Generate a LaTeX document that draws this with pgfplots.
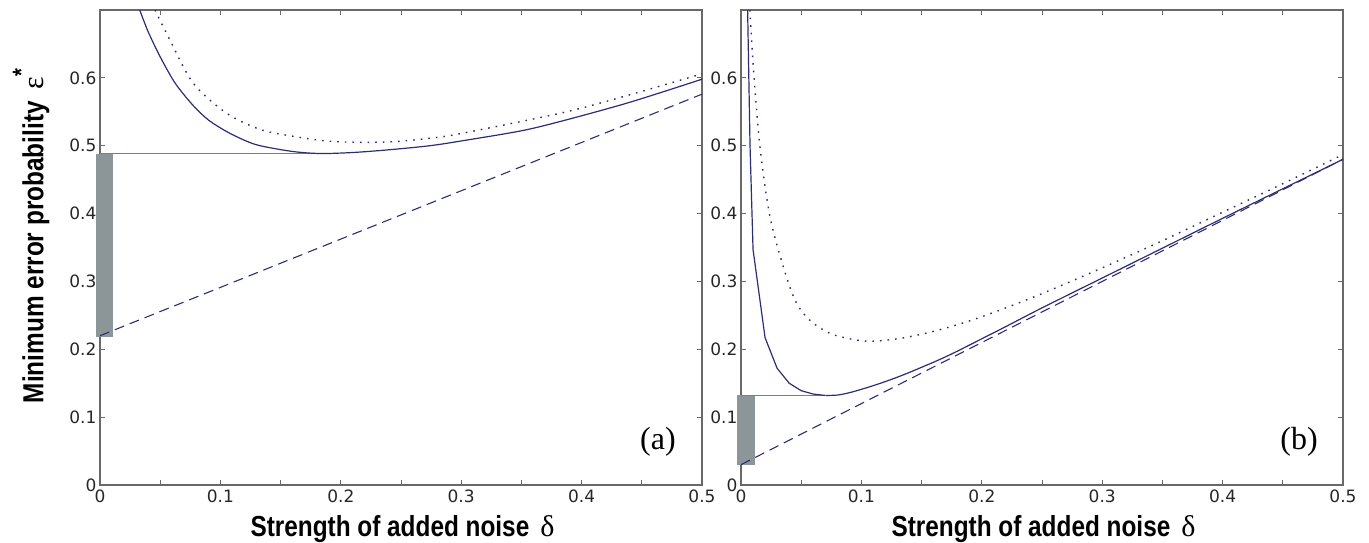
\documentclass[border=0pt]{standalone}
\usepackage{fontspec}
\usepackage{pgfplots}
\pgfplotsset{compat=1.18}
\setmainfont{DejaVu Sans}
\newfontfamily\labfont[FakeStretch=0.84]{Liberation Sans}
\newfontfamily\serifont{Liberation Serif}

\definecolor{navy}{RGB}{45,45,115}
\definecolor{axisgray}{RGB}{105,105,105}
\definecolor{boxgray}{RGB}{140,150,153}
\definecolor{linegray}{RGB}{125,125,125}

\pgfplotsset{
  panel/.style={
    scale only axis, width=602pt, height=475pt,
    xmin=0, xmax=0.5, ymin=0, ymax=0.7,
    xtick={0,0.1,0.2,0.3,0.4,0.5},
    minor xtick={0.05,0.15,0.25,0.35,0.45},
    ytick={0,0.1,0.2,0.3,0.4,0.5,0.6},
    major tick length=5pt, minor tick length=5pt,
    axis line style={axisgray, line width=1.2pt},
    every tick/.style={axisgray, line width=1pt},
    every minor tick/.style={axisgray, line width=1pt},
    tick label style={font=\fontsize{17}{17}\selectfont, text=black!85},
    xticklabel style={yshift=-1pt},
    /pgf/number format/assume math mode=true,
    clip=false,
  },
  curve/.style={navy, line width=1.2pt},
  dotc/.style={navy, line width=1.4pt, dash pattern=on 1.6pt off 6pt},
  dashc/.style={navy, line width=1.1pt, dash pattern=on 10pt off 6pt},
}

\begin{document}
\begin{tikzpicture}
\useasboundingbox (-100pt,-58pt) rectangle (1269pt,485pt);

% panel (a)
\begin{axis}[panel]
\addplot[fill=boxgray, draw=none] coordinates {(-0.003,0.218) (0.011,0.218) (0.011,0.4885) (-0.003,0.4885)};
\addplot[linegray, line width=1pt] coordinates {(0,0.4885) (0.183,0.4885)};
\addplot[dashc] coordinates {(0,0.22) (0.5,0.576)};
\addplot[curve, smooth] coordinates {
(0.033,0.700) (0.040,0.668) (0.050,0.631) (0.0625,0.592) (0.0775,0.559)
(0.090,0.538) (0.105,0.521) (0.120,0.508) (0.133,0.500) (0.160,0.4915)
(0.183,0.4885) (0.210,0.490) (0.240,0.494) (0.274,0.500) (0.300,0.507)
(0.350,0.522) (0.385,0.537) (0.440,0.564) (0.500,0.598)};
\addplot[dotc, smooth] coordinates {
(0.0457,0.700) (0.058,0.656) (0.0775,0.592) (0.105,0.548) (0.133,0.524)
(0.160,0.514) (0.188,0.507) (0.216,0.505) (0.244,0.506) (0.274,0.511)
(0.300,0.518) (0.385,0.549) (0.440,0.575) (0.500,0.606)};
\end{axis}

% panel (b)
\begin{axis}[panel, at={(641pt,0pt)}]
\addplot[fill=boxgray, draw=none] coordinates {(-0.003,0.030) (0.0115,0.030) (0.0115,0.132) (-0.003,0.132)};
\addplot[linegray, line width=1pt] coordinates {(0,0.132) (0.070,0.132)};
\addplot[dashc] coordinates {(0,0.030) (0.5,0.480)};
\addplot[curve] coordinates {
(0.0055,0.700) (0.0075,0.500) (0.010,0.347) (0.020,0.217) (0.030,0.172)
(0.040,0.150) (0.050,0.139) (0.060,0.134) (0.070,0.132)};
\addplot[curve, smooth] coordinates {
(0.070,0.132) (0.080,0.1325) (0.090,0.136) (0.100,0.141) (0.110,0.1465)
(0.120,0.1525) (0.130,0.159) (0.140,0.166) (0.150,0.1735) (0.160,0.181)
(0.170,0.189) (0.180,0.1975) (0.190,0.2065) (0.200,0.2155) (0.220,0.2335)
(0.250,0.261) (0.300,0.305) (0.350,0.349) (0.400,0.393) (0.450,0.4365)
(0.500,0.480)};
\addplot[dotc, smooth] coordinates {
(0.0074,0.700) (0.0102,0.617) (0.0157,0.499) (0.024,0.396) (0.035,0.3225)
(0.045,0.272) (0.057,0.243) (0.076,0.222) (0.104,0.212) (0.131,0.2157)
(0.159,0.226) (0.1865,0.240) (0.214,0.257) (0.250,0.282) (0.300,0.320)
(0.350,0.360) (0.400,0.402) (0.450,0.444) (0.500,0.487)};
\end{axis}

% labels
\node[rotate=90, anchor=base] at (-56.6pt,249pt)
  {{\labfont\bfseries\fontsize{29}{29}\selectfont Minimum error probability}\hspace{12pt}{\serifont\fontsize{30}{30}\selectfont ε}\raisebox{14pt}{\labfont\bfseries\fontsize{24}{24}\selectfont *}};
\node[anchor=base] at (302.5pt,-52pt)
  {{\labfont\bfseries\fontsize{29}{29}\selectfont Strength of added noise}\hspace{11pt}{\serifont\fontsize{30}{30}\selectfont δ}};
\node[anchor=base] at (943.5pt,-52pt)
  {{\labfont\bfseries\fontsize{29}{29}\selectfont Strength of added noise}\hspace{11pt}{\serifont\fontsize{30}{30}\selectfont δ}};
\node at (558pt,43pt) {\serifont\fontsize{32}{32}\selectfont (a)};
\node at (1199pt,43pt) {\serifont\fontsize{32}{32}\selectfont (b)};
\end{tikzpicture}
\end{document}
